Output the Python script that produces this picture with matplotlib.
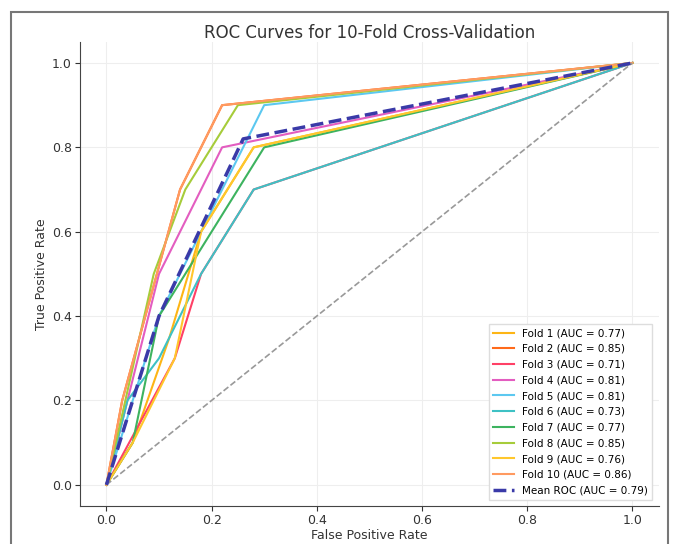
import matplotlib
matplotlib.use("Agg")
import matplotlib.pyplot as plt
from matplotlib.patches import Rectangle

fold_labels = ["Fold 1", "Fold 2", "Fold 3", "Fold 4", "Fold 5",
               "Fold 6", "Fold 7", "Fold 8", "Fold 9", "Fold 10"]
fold_aucs = [0.77, 0.85, 0.71, 0.81, 0.81, 0.73, 0.77, 0.85, 0.76, 0.86]

fpr_f1 = [0.0, 0.05, 0.12, 0.18, 0.28, 1.0]
tpr_f1 = [0.0, 0.10, 0.35, 0.60, 0.80, 1.0]
fpr_f2 = [0.0, 0.03, 0.14, 0.22, 1.0]
tpr_f2 = [0.0, 0.20, 0.70, 0.90, 1.0]
fpr_f3 = [0.0, 0.13, 0.18, 0.28, 1.0]
tpr_f3 = [0.0, 0.30, 0.50, 0.70, 1.0]
fpr_f4 = [0.0, 0.10, 0.22, 1.0]
tpr_f4 = [0.0, 0.50, 0.80, 1.0]
fpr_f5 = [0.0, 0.10, 0.30, 1.0]
tpr_f5 = [0.0, 0.40, 0.90, 1.0]
fpr_f6 = [0.0, 0.04, 0.10, 0.18, 0.28, 1.0]
tpr_f6 = [0.0, 0.20, 0.30, 0.50, 0.70, 1.0]
fpr_f7 = [0.0, 0.05, 0.10, 0.30, 1.0]
tpr_f7 = [0.0, 0.10, 0.40, 0.80, 1.0]
fpr_f8 = [0.0, 0.09, 0.15, 0.25, 1.0]
tpr_f8 = [0.0, 0.50, 0.70, 0.90, 1.0]
fpr_f9 = [0.0, 0.05, 0.13, 0.18, 0.28, 1.0]
tpr_f9 = [0.0, 0.10, 0.30, 0.60, 0.80, 1.0]
fpr_f10 = [0.0, 0.03, 0.14, 0.22, 1.0]
tpr_f10 = [0.0, 0.20, 0.70, 0.90, 1.0]

mean_fpr = [0.0, 0.10, 0.26, 1.0]
mean_tpr = [0.0, 0.40, 0.82, 1.0]
mean_auc = 0.79

xticks = [0.0, 0.2, 0.4, 0.6, 0.8, 1.0]
yticks = [0.0, 0.2, 0.4, 0.6, 0.8, 1.0]

fold_fprs = [fpr_f1, fpr_f2, fpr_f3, fpr_f4, fpr_f5, fpr_f6, fpr_f7, fpr_f8, fpr_f9, fpr_f10]
fold_tprs = [tpr_f1, tpr_f2, tpr_f3, tpr_f4, tpr_f5, tpr_f6, tpr_f7, tpr_f8, tpr_f9, tpr_f10]
colors = ["#FDB515", "#FF6A1A", "#FF4066", "#E35DC0", "#5CC8F0",
          "#3EC1C4", "#3DB35F", "#A6CC3A", "#FFC72C", "#FF9A60"]

fig = plt.figure(figsize=(6.79, 5.44), dpi=100)
ax = fig.add_axes([0.118, 0.070, 0.852, 0.853])

for lab, auc, fx, ty, c in zip(fold_labels, fold_aucs, fold_fprs, fold_tprs, colors):
    ax.plot(fx, ty, color=c, lw=1.5, label=f"{lab} (AUC = {auc:.2f})")

ax.plot([0, 1], [0, 1], linestyle="--", color="#999999", lw=1.2)
ax.plot(mean_fpr, mean_tpr, linestyle="--", color="#3A3AA8", lw=2.5,
        label=f"Mean ROC (AUC = {mean_auc:.2f})")

ax.set_xlim(-0.05, 1.05)
ax.set_ylim(-0.05, 1.05)
ax.set_xticks(xticks)
ax.set_yticks(yticks)
ax.tick_params(labelsize=9, colors="#333333", pad=2.5)
ax.grid(True, color="#eeeeee", lw=0.8)
ax.set_axisbelow(True)
for s in ["top", "right"]:
    ax.spines[s].set_visible(False)
for s in ["left", "bottom"]:
    ax.spines[s].set_color("#444444")

ax.set_title("ROC Curves for 10-Fold Cross-Validation", fontsize=12, color="#333333", pad=3)
ax.set_xlabel("False Positive Rate", fontsize=9, color="#333333", labelpad=1)
ax.set_ylabel("True Positive Rate", fontsize=9, color="#333333", labelpad=3)

leg = ax.legend(loc="lower right", fontsize=7.5, frameon=True, framealpha=1.0,
                edgecolor="#dddddd", fancybox=False, handlelength=2.0,
                labelspacing=0.55, borderaxespad=0.6)

fig.patches.append(Rectangle((0.016, -0.05), 0.968, 1.028, transform=fig.transFigure,
                             fill=False, edgecolor="#777777", lw=1.5))

fig.savefig("out.png", dpi=100)
